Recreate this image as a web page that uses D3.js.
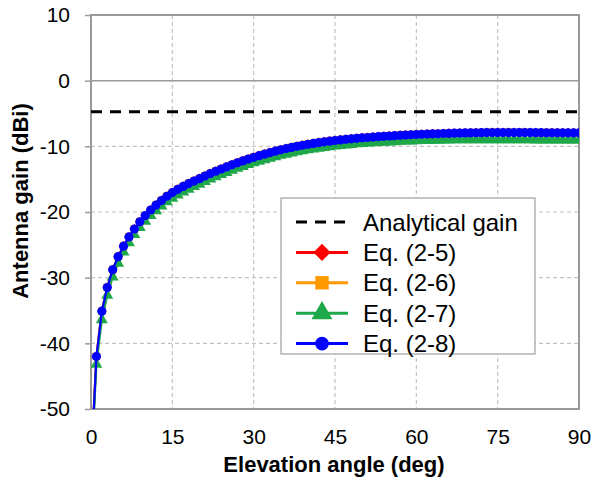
<!DOCTYPE html>
<html>
<head>
<meta charset="utf-8">
<script src="https://cdn.jsdelivr.net/npm/d3@7"></script>
<style>
  body { margin: 0; background: #fff; }
  text { font-family: "Liberation Sans", Arial, Helvetica, sans-serif; fill: #000; }
</style>
</head>
<body>
<svg id="chart" width="592" height="483"></svg>
<script>
// ---------- data ----------
const angles = [0.4, ...d3.range(1, 91)]; // elevation angle (deg)
const xTicks = [0, 15, 30, 45, 60, 75, 90];
const yTicks = [10, 0, -10, -20, -30, -40, -50];
const analyticalGain = -4.75;

const eq25 = [-51.97,
  -41.97, -35.07, -31.47, -28.77, -26.77, -25.17, -23.77, -22.57, -21.47, -20.52,
  -19.67, -18.92, -18.22, -17.57, -17.02, -16.52, -16.07, -15.65, -15.26, -14.89,
  -14.49, -14.12, -13.76, -13.42, -13.1, -12.78, -12.48, -12.19, -11.91, -11.64,
  -11.39, -11.16, -10.93, -10.71, -10.5, -10.32, -10.14, -9.97, -9.81, -9.66,
  -9.53, -9.41, -9.29, -9.18, -9.08, -8.99, -8.91, -8.83, -8.75, -8.68,
  -8.62, -8.56, -8.5, -8.45, -8.4, -8.35, -8.3, -8.25, -8.21, -8.17,
  -8.13, -8.1, -8.07, -8.05, -8.02, -8.0, -7.97, -7.95, -7.93, -7.91,
  -7.9, -7.89, -7.88, -7.87, -7.87, -7.87, -7.87, -7.87, -7.87, -7.88,
  -7.88, -7.89, -7.89, -7.9, -7.9, -7.91, -7.91, -7.92, -7.92, -7.92];

const eq26 = [-51.98,
  -41.98, -35.08, -31.48, -28.78, -26.78, -25.18, -23.78, -22.58, -21.48, -20.53,
  -19.68, -18.93, -18.23, -17.58, -17.03, -16.53, -16.08, -15.66, -15.27, -14.9,
  -14.5, -14.13, -13.77, -13.43, -13.11, -12.79, -12.49, -12.2, -11.92, -11.65,
  -11.4, -11.17, -10.94, -10.72, -10.51, -10.33, -10.15, -9.98, -9.82, -9.67,
  -9.54, -9.42, -9.3, -9.19, -9.09, -9.0, -8.92, -8.84, -8.76, -8.69,
  -8.63, -8.57, -8.51, -8.46, -8.41, -8.36, -8.31, -8.26, -8.22, -8.18,
  -8.14, -8.11, -8.08, -8.06, -8.03, -8.01, -7.98, -7.96, -7.94, -7.92,
  -7.91, -7.9, -7.89, -7.88, -7.88, -7.88, -7.88, -7.88, -7.88, -7.89,
  -7.89, -7.9, -7.9, -7.91, -7.91, -7.92, -7.92, -7.93, -7.93, -7.93];

const eq27 = [-53,
  -43.2, -36.4, -32.7, -29.9, -27.8, -26.1, -24.7, -23.45, -22.35, -21.4,
  -20.55, -19.8, -19.1, -18.45, -17.9, -17.4, -16.95, -16.53, -16.14, -15.77,
  -15.37, -15.0, -14.64, -14.3, -13.98, -13.66, -13.36, -13.07, -12.79, -12.52,
  -12.27, -12.04, -11.81, -11.59, -11.38, -11.2, -11.02, -10.85, -10.69, -10.54,
  -10.41, -10.29, -10.17, -10.06, -9.96, -9.87, -9.79, -9.71, -9.63, -9.56,
  -9.51, -9.46, -9.41, -9.37, -9.33, -9.29, -9.25, -9.21, -9.18, -9.15,
  -9.12, -9.1, -9.08, -9.07, -9.05, -9.04, -9.02, -9.01, -9.0, -8.99,
  -8.99, -8.99, -8.99, -8.99, -9.0, -9.0, -9.0, -9.01, -9.01, -9.02,
  -9.02, -9.03, -9.03, -9.04, -9.04, -9.05, -9.05, -9.06, -9.06, -9.06];

const eq28 = [-52,
  -42.0, -35.1, -31.5, -28.8, -26.8, -25.2, -23.8, -22.6, -21.5, -20.55,
  -19.7, -18.95, -18.25, -17.6, -17.05, -16.55, -16.1, -15.68, -15.29, -14.92,
  -14.52, -14.15, -13.79, -13.45, -13.13, -12.81, -12.51, -12.22, -11.94, -11.67,
  -11.42, -11.19, -10.96, -10.74, -10.53, -10.35, -10.17, -10.0, -9.84, -9.69,
  -9.56, -9.44, -9.32, -9.21, -9.11, -9.02, -8.94, -8.86, -8.78, -8.71,
  -8.65, -8.59, -8.53, -8.48, -8.43, -8.38, -8.33, -8.28, -8.24, -8.2,
  -8.16, -8.13, -8.1, -8.08, -8.05, -8.03, -8.0, -7.98, -7.96, -7.94,
  -7.93, -7.92, -7.91, -7.9, -7.9, -7.9, -7.9, -7.9, -7.9, -7.91,
  -7.91, -7.92, -7.92, -7.93, -7.93, -7.94, -7.94, -7.95, -7.95, -7.95];

const seriesNames = ["Eq. (2-5)", "Eq. (2-6)", "Eq. (2-7)", "Eq. (2-8)"];
const seriesColors = ["#ff0000", "#ff9900", "#1fa84a", "#0000ff"];
const seriesValues = [eq25, eq26, eq27, eq28];
const diamond = d3.symbolDiamond2 || d3.symbolDiamond;
const seriesSymbols = [diamond, d3.symbolSquare, d3.symbolTriangle, d3.symbolCircle];

// ---------- layout ----------
const svg = d3.select("#chart");
const L = 91, R = 579, T = 15, B = 409;
const x = d3.scaleLinear().domain([0, 90]).range([L, R]);
const y = d3.scaleLinear().domain([-50, 10]).range([B, T]);
const fmt = d => String(d);

svg.append("defs").append("clipPath").attr("id", "plotclip")
  .append("rect").attr("x", L).attr("y", T).attr("width", R - L).attr("height", B - T);

// gridlines
const grid = svg.append("g");
grid.selectAll(".vg").data(xTicks.filter(d => d > 0 && d < 90)).enter().append("line")
  .attr("x1", d => x(d)).attr("x2", d => x(d)).attr("y1", T).attr("y2", B)
  .attr("stroke", "#c4c4c4").attr("stroke-width", 1.2).attr("stroke-dasharray", "4,3");
grid.selectAll(".hg").data(yTicks.filter(d => d > -50 && d < 10)).enter().append("line")
  .attr("x1", L).attr("x2", R).attr("y1", d => y(d)).attr("y2", d => y(d))
  .attr("stroke", d => d === 0 ? "#9a9a9a" : "#c4c4c4")
  .attr("stroke-width", d => d === 0 ? 1.5 : 1.2)
  .attr("stroke-dasharray", d => d === 0 ? null : "4,3");

// axes
const yAxis = d3.axisLeft(y).tickValues(yTicks).tickSize(6).tickPadding(15).tickFormat(fmt);
const gy = svg.append("g").attr("transform", `translate(${L},0)`).call(yAxis);
gy.select(".domain").remove();
gy.selectAll(".tick line").attr("stroke", "#9a9a9a").attr("stroke-width", 1.5);
gy.selectAll(".tick text").attr("font-size", 21).attr("fill", "#000")
  .style("font-family", '"Liberation Sans", Arial, sans-serif');

const xAxis = d3.axisBottom(x).tickValues(xTicks).tickSize(0).tickPadding(20).tickFormat(fmt);
const gx = svg.append("g").attr("transform", `translate(0,${B})`).call(xAxis);
gx.select(".domain").remove();
gx.selectAll(".tick text").attr("font-size", 21).attr("fill", "#000")
  .style("font-family", '"Liberation Sans", Arial, sans-serif');

// plot frame
svg.append("rect").attr("x", L).attr("y", T).attr("width", R - L).attr("height", B - T)
  .attr("fill", "none").attr("stroke", "#9a9a9a").attr("stroke-width", 2);

// analytical gain
const plot = svg.append("g").attr("clip-path", "url(#plotclip)");
plot.append("line").attr("x1", x(0)).attr("x2", x(90))
  .attr("y1", y(analyticalGain)).attr("y2", y(analyticalGain))
  .attr("stroke", "#000").attr("stroke-width", 3).attr("stroke-dasharray", "11,8");

// series
const line = d3.line().x((d, i) => x(angles[i])).y(d => y(d));
const plotSizes = [60, 56, 62, 66];
seriesValues.forEach((vals, k) => {
  plot.append("path").datum(vals).attr("d", line)
    .attr("fill", "none").attr("stroke", seriesColors[k]).attr("stroke-width", 2.2);
  plot.selectAll(".m" + k).data(vals).enter().append("path")
    .attr("transform", (d, i) => `translate(${x(angles[i])},${y(d)})`)
    .attr("d", d3.symbol().type(seriesSymbols[k]).size(plotSizes[k]))
    .attr("fill", seriesColors[k]);
});

// legend
const lg = svg.append("g");
lg.append("rect").attr("x", 281).attr("y", 198).attr("width", 254).attr("height", 156)
  .attr("fill", "#fff").attr("stroke", "#a0a0a0").attr("stroke-width", 1.2);
const rowY = i => 222 + i * 30.4;
lg.append("line").attr("x1", 296).attr("x2", 348).attr("y1", rowY(0)).attr("y2", rowY(0))
  .attr("stroke", "#000").attr("stroke-width", 3).attr("stroke-dasharray", "11,8");
lg.append("text").attr("x", 363).attr("y", rowY(0)).attr("dy", "0.36em")
  .attr("font-size", 24).text("Analytical gain");
const legendSizes = [190, 180, 190, 150];
seriesNames.forEach((name, k) => {
  const yy = rowY(k + 1);
  lg.append("line").attr("x1", 296).attr("x2", 348).attr("y1", yy).attr("y2", yy)
    .attr("stroke", seriesColors[k]).attr("stroke-width", 3);
  lg.append("path").attr("transform", `translate(322,${yy})`)
    .attr("d", d3.symbol().type(seriesSymbols[k]).size(legendSizes[k]))
    .attr("fill", seriesColors[k]);
  lg.append("text").attr("x", 363).attr("y", yy).attr("dy", "0.36em")
    .attr("font-size", 24).text(name);
});

// axis titles
svg.append("text").attr("x", (L + R) / 2 - 1).attr("y", 472).attr("text-anchor", "middle")
  .attr("font-size", 22).attr("font-weight", "bold").text("Elevation angle (deg)");
svg.append("text").attr("transform", "translate(28,201) rotate(-90)").attr("text-anchor", "middle")
  .attr("font-size", 22).attr("font-weight", "bold").text("Antenna gain (dBi)");
</script>
</body>
</html>
